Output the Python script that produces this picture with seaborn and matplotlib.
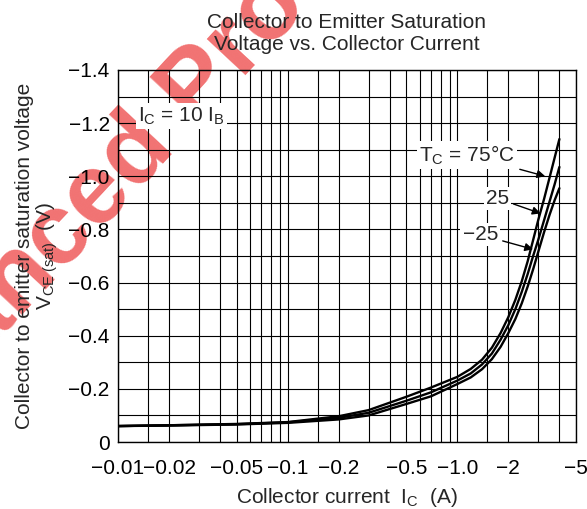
import numpy as np
import pandas as pd
import seaborn as sns
import matplotlib.pyplot as plt
from matplotlib.ticker import FixedLocator, NullFormatter

# dados (valores em módulo: I_C em A, V_CE(sat) em V)
corrente = [0.01, 0.02, 0.05, 0.1, 0.2, 0.3, 0.5, 0.7, 1.0, 1.2, 1.4, 1.6, 1.8, 2.0,
            2.2, 2.4, 2.6, 2.8, 3.0, 3.25, 3.5, 3.75, 4.0]
vce_75 = [0.060, 0.063, 0.068, 0.075, 0.097, 0.120, 0.170, 0.205, 0.245, 0.275, 0.310, 0.355,
          0.410, 0.470, 0.535, 0.605, 0.680, 0.760, 0.835, 0.915, 0.995, 1.070, 1.140]
vce_25 = [0.060, 0.063, 0.067, 0.074, 0.091, 0.110, 0.155, 0.187, 0.231, 0.258, 0.292, 0.333,
          0.385, 0.440, 0.500, 0.565, 0.632, 0.700, 0.760, 0.835, 0.905, 0.970, 1.035]
vce_m25 = [0.060, 0.062, 0.066, 0.072, 0.085, 0.100, 0.143, 0.172, 0.218, 0.243, 0.274, 0.312,
           0.358, 0.410, 0.463, 0.522, 0.585, 0.650, 0.715, 0.790, 0.855, 0.910, 0.955]
temperaturas = ["75", "25", "-25"]

x_ticks = [0.01, 0.02, 0.05, 0.1, 0.2, 0.5, 1.0, 2, 5]
x_labels = ["\u22120.01", "\u22120.02", "\u22120.05", "\u22120.1", "\u22120.2",
            "\u22120.5", "\u22121.0", "\u22122", "\u22125"]
y_ticks = [0, 0.2, 0.4, 0.6, 0.8, 1.0, 1.2, 1.4]
y_labels = ["0", "\u22120.2", "\u22120.4", "\u22120.6", "\u22120.8", "\u22121.0", "\u22121.2", "\u22121.4"]

df = pd.DataFrame({
    "Ic": corrente * 3,
    "Vce": vce_75 + vce_25 + vce_m25,
    "Tc": np.repeat(temperaturas, len(corrente)),
})

sns.set_style("ticks")
plt.rcParams['font.family'] = ['Liberation Sans', 'DejaVu Sans']
plt.rcParams['mathtext.fontset'] = 'custom'
plt.rcParams['mathtext.rm'] = 'Liberation Sans'
plt.rcParams['mathtext.it'] = 'Liberation Sans:italic'

fig = plt.figure(figsize=(5.87, 5.09), dpi=100)
ax = fig.add_axes([0.201, 0.1316, 0.780, 0.731])
ax.set_facecolor('none')

# marca d'água
fig.text(0.2274, 0.6906, "Advanced Product", rotation=47, rotation_mode='anchor',
         ha='center', va='center', fontsize=72, fontweight='bold',
         color='#ef5a5a', alpha=0.85, zorder=-1)

sns.lineplot(data=df, x="Ic", y="Vce", hue="Tc", palette=['black'] * 3,
             legend=False, linewidth=1.7, ax=ax)

ax.set_xscale('log')
ax.set_xlim(0.01, 5)
ax.set_ylim(0, 1.4)

minor_x = [k * 10.0 ** d for d in (-2, -1, 0) for k in (1.5, 3, 4, 6, 7, 8, 9)]
ax.xaxis.set_major_locator(FixedLocator(x_ticks))
ax.set_xticklabels(x_labels)
ax.xaxis.set_minor_locator(FixedLocator(minor_x))
ax.xaxis.set_minor_formatter(NullFormatter())
ax.yaxis.set_major_locator(FixedLocator(y_ticks))
ax.set_yticklabels(y_labels)
ax.yaxis.set_minor_locator(FixedLocator([0.1, 0.3, 0.5, 0.7, 0.9, 1.1, 1.3]))

ax.grid(which='both', color='black', linewidth=0.8)
ax.tick_params(which='both', length=0, labelsize=15, colors='black')
ax.tick_params(axis='x', pad=12)
ax.tick_params(axis='y', pad=6)
for s in ax.spines.values():
    s.set_color('black')
    s.set_linewidth(1)

ax.set_title("Collector to Emitter Saturation\nVoltage vs. Collector Current",
             fontsize=15, pad=14)
ax.set_xlabel(r"Collector current  $\mathregular{I_C}$  (A)", fontsize=15, labelpad=6)
ax.set_ylabel("Collector to emitter saturation voltage\n"
              r"$\mathregular{V_{CE\ (sat)}}$  (V)", fontsize=15, labelpad=6,
              linespacing=1.05)

box = dict(boxstyle='square,pad=0.1', fc='white', ec='none')
arrow = dict(arrowstyle='-|>', color='black', lw=1, mutation_scale=12, shrinkA=2, shrinkB=0)

ax.text(0.0238, 1.226, r"$\mathregular{I_C}$ = 10 $\mathregular{I_B}$", fontsize=15,
        ha='center', va='center', bbox=box)
ax.annotate(r"$\mathregular{T_C}$ = 75°C", xy=(3.3, 1.0), xytext=(1.145, 1.08),
            fontsize=15, ha='center', va='center', bbox=box, arrowprops=arrow)
ax.annotate("25", xy=(3.1, 0.86), xytext=(1.72, 0.917),
            fontsize=15, ha='center', va='center', bbox=box, arrowprops=arrow)
ax.annotate("\u221225", xy=(2.8, 0.725), xytext=(1.366, 0.78),
            fontsize=15, ha='center', va='center', bbox=box, arrowprops=arrow)

plt.savefig("out.png", dpi=100)
